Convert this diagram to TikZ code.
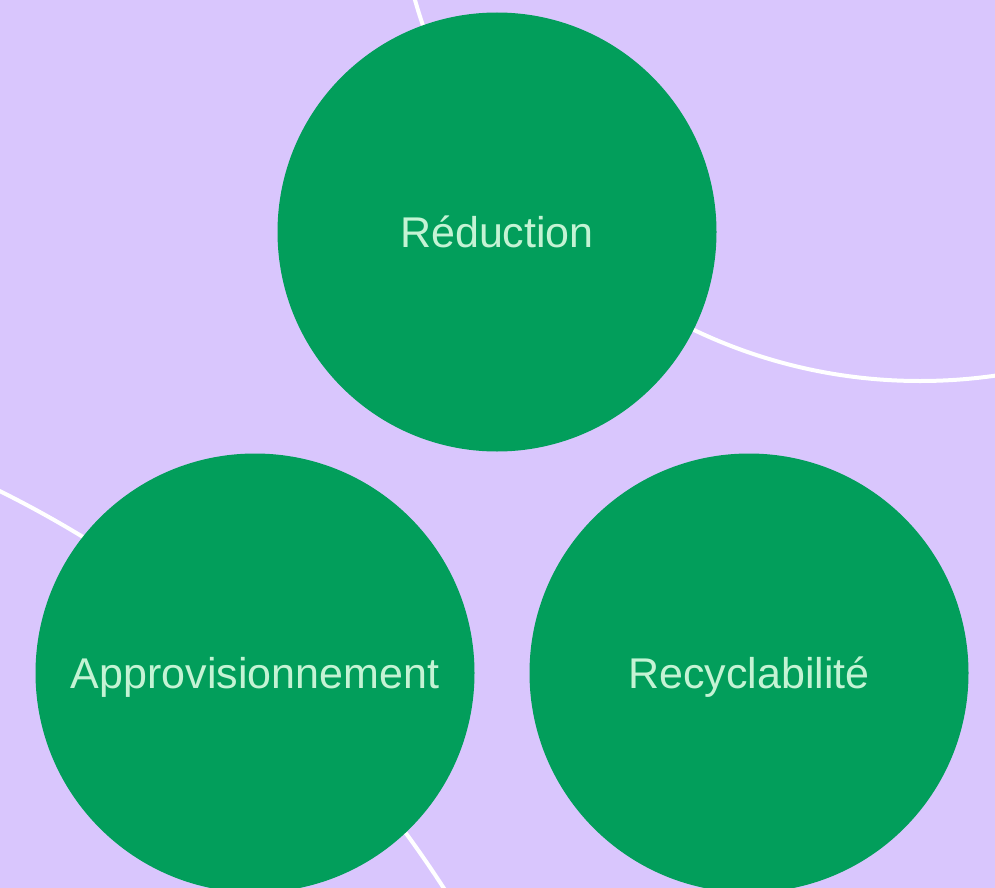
\documentclass[tikz,border=0pt]{standalone}
\usepackage{fontspec}
\setmainfont{Liberation Sans}
\usepackage{tikz}
\definecolor{lavande}{HTML}{D9C6FD}
\definecolor{vert}{HTML}{029E5B}
\definecolor{vertclair}{HTML}{C4F3D4}
\tikzset{
  pilier/.style={circle,fill=vert,minimum size=439pt,inner sep=0pt,
    text=vertclair,font=\fontsize{43}{50}\selectfont},
  anneau/.style={white,line width=4pt}
}
\newcommand{\bas}[1]{\raisebox{-4pt}[\height][\depth]{#1}}
\begin{document}
\begin{tikzpicture}[x=1pt,y=-1pt]
      \useasboundingbox (0,0) rectangle (995,888);
      \clip (0,0) rectangle (995,888);
      \fill[lavande] (0,0) rectangle (995,888);
      % arcs in the background
      \draw[anneau] (920,-144) circle (525);
      \draw[anneau] (-500,1497) circle (1123);
      % the three circles
      \node[pilier] (reduction) at (497,232) {Réduction};
      \node[pilier] (appro) at (255,673) {\bas{Approvisionnement}};
      \node[pilier] (recyclage) at (749,673) {\bas{Recyclabilité}};
    \end{tikzpicture}
\end{document}
